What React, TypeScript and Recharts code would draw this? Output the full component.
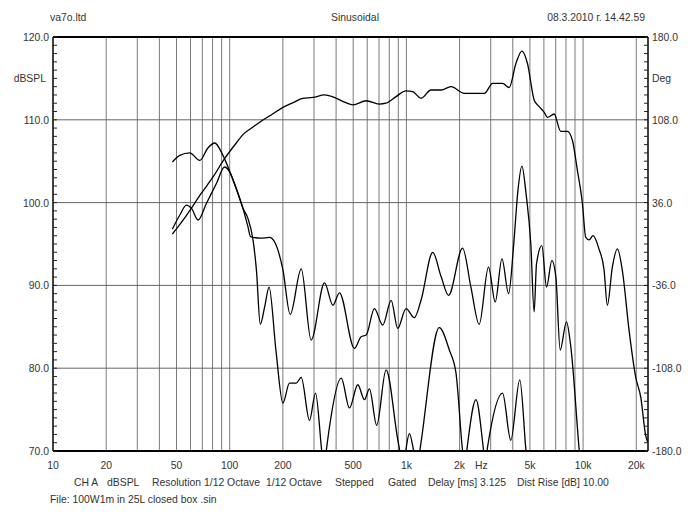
import React from "react";
import { LineChart, Line, XAxis, YAxis, ReferenceLine } from "recharts";

// SPL response (left axis, dB)
const splFreq = [
  47.4, 52, 58, 69, 80.5, 93.5, 109, 120, 135, 150, 175, 200, 230, 259, 296, 344, 401, 450, 498, 592,
  703, 767, 874, 995, 1086, 1210, 1378, 1570, 1789, 2128, 2373, 2763, 3077, 3502, 3820, 4167, 4505,
  4845, 5284, 5640, 6026, 6285, 6855, 7473, 8147, 8704, 9284, 9910, 10350, 10810, 11380, 12300,
  13140, 13720, 14640, 15640, 16680, 18200, 19860, 21200, 22600, 23300,
];
const splDb = [
  96.2, 97.3, 98.7, 101.1, 103.1, 105.3, 107.2, 108.3, 109.1, 109.8, 110.7, 111.5, 112.1, 112.6, 112.7,
  113.0, 112.6, 112.1, 111.8, 112.3, 111.9, 112.0, 112.8, 113.5, 113.4, 112.6, 113.6, 113.6, 114.0,
  113.2, 113.2, 113.2, 114.4, 114.4, 113.9, 116.8, 118.3, 116.8, 112.4, 111.6, 110.9, 110.3, 110.7,
  108.6, 108.6, 107.5, 103.9, 99.9, 95.8, 95.5, 96.0, 94.4, 91.9, 87.6, 92.2, 94.4, 91.8, 84.6, 78.9,
  76.5, 71.9, 71.0,
];

// upper wiggly curve
const upperFreq = [
  47.4, 52.2, 59.4, 67.7, 75.3, 82.2, 91.6, 104.5, 116.5, 126.8, 131, 150, 168, 179, 200, 220, 254,
  289, 344, 384, 418, 508, 554, 592, 659, 735, 820, 893, 995, 1109, 1210, 1410, 1570, 1733, 2080,
  2318, 2582, 2915, 3183, 3473, 3788, 4050, 4280, 4505, 4760, 5060, 5284, 5450, 5843, 6210, 6655,
  7015, 7420, 8050, 8520, 9490, 9900,
];
const upperDb = [
  104.9, 105.7, 106.0, 105.1, 106.6, 107.2, 105.7, 102.7, 99.9, 97.1, 95.9, 95.7, 95.8, 95.3, 91.9,
  86.5, 92.0, 83.4, 90.3, 87.6, 89.1, 82.4, 83.8, 84.0, 87.2, 85.2, 88.2, 84.8, 87.2, 86.1, 88.2, 94.0,
  91.1, 88.8, 94.5, 89.8, 85.3, 92.2, 88.0, 93.2, 89.0, 95.0, 101.5, 104.4, 101.0, 95.0, 86.8, 92.6,
  94.8, 89.8, 93.0, 91.0, 82.2, 85.6, 82.6, 70.3, 66,
];

// lower wiggly curve
const lowerFreq = [
  47.4, 52.2, 56.9, 60.8, 66.3, 73.8, 84.1, 93.5, 100, 109, 119, 126.8, 135.5, 141.6, 149, 158, 167,
  183, 200, 218, 238, 254, 283, 306, 330, 341, 352, 367, 428, 476, 531, 579, 618, 679, 767, 900, 955,
  1040, 1100, 1150, 1200, 1535, 1750, 1909, 2080, 2140, 2210, 2476, 2720, 2790, 2880, 3502, 3897,
  4382, 4750, 4950,
];
const lowerDb = [
  96.8, 98.5, 99.7, 99.3, 97.9, 99.9, 102.3, 104.3, 103.7, 101.7, 99.3, 98.1, 95.5, 91.9, 85.3, 87.5,
  89.8, 82, 75.8, 78.2, 78.2, 78.9, 73.7, 77.0, 70.5, 67.5, 70.0, 72.9, 78.8, 75.2, 78.0, 76.2, 77.5,
  73.1, 79.8, 71.0, 68.5, 72.1, 70.0, 68.0, 70.5, 84.9, 82.2, 79.4, 70.0, 68.0, 70.5, 76.2, 70.5,
  68.5, 70.5, 77.0, 71.3, 78.6, 70.0, 66,
];

const freqTicks = [10, 20, 50, 100, 200, 500, 1000, 2000, 2655, 5000, 10000, 20000];
const freqTickLabels = ["10", "20", "50", "100", "200", "500", "1k", "2k", "Hz", "5k", "10k", "20k"];
const gridFreqs = [
  20, 30, 40, 50, 60, 70, 80, 90, 100, 200, 300, 400, 500, 600, 700, 800, 900, 1000, 2000, 3000,
  4000, 5000, 6000, 7000, 8000, 9000, 10000, 20000,
];
const dbGrid = [80, 90, 100, 110];
const dbTicks = Array.from({ length: 51 }, (_, i) => 70 + i);
const degTicks = Array.from({ length: 51 }, (_, i) => -180 + i * 7.2);

const infoItems: [number, string][] = [
  [74, "CH A"],
  [107, "dBSPL"],
  [152, "Resolution 1/12 Octave"],
  [266, "1/12 Octave"],
  [335, "Stepped"],
  [388, "Gated"],
  [428, "Delay [ms] 3.125"],
  [517, "Dist Rise [dB] 10.00"],
];

const FONT = '"Liberation Sans", Arial, sans-serif';
const FS = 10.4;
const TXT = "#333";

const toData = (fs: number[], vs: number[]) => fs.map((f, i) => ({ f, v: vs[i] }));
const splData = toData(splFreq, splDb);
const upperData = toData(upperFreq, upperDb);
const lowerData = toData(lowerFreq, lowerDb);

function LeftTick(props: any) {
  const { x, y, payload } = props;
  const v = payload.value;
  const major = Math.abs(v % 10) < 0.001;
  return (
    <g>
      <line x1={x} x2={x + 4} y1={y} y2={y} stroke="#222" strokeWidth={1} />
      {major && (
        <text x={x - 4} y={y + 4} textAnchor="end" fontSize={FS} fontFamily={FONT} fill={TXT}>
          {v.toFixed(1)}
        </text>
      )}
    </g>
  );
}

function RightTick(props: any) {
  const { x, y, payload } = props;
  const v = payload.value;
  const k = (v + 180) / 72;
  const major = Math.abs(k - Math.round(k)) < 0.001;
  return (
    <g>
      <line x1={x - 4} x2={x} y1={y} y2={y} stroke="#222" strokeWidth={1} />
      {major && (
        <text x={x + 4} y={y + 4} textAnchor="start" fontSize={FS} fontFamily={FONT} fill={TXT}>
          {(Math.round(v * 10) / 10).toFixed(1)}
        </text>
      )}
    </g>
  );
}

function BottomTick(props: any) {
  const { x, y, payload } = props;
  const idx = freqTicks.indexOf(payload.value);
  return (
    <text x={x} y={y + 18} textAnchor="middle" fontSize={FS} fontFamily={FONT} fill={TXT}>
      {freqTickLabels[idx]}
    </text>
  );
}

export default function App() {
  return (
    <div style={{ position: "absolute", left: 0, top: 0, width: 700, height: 525, background: "#fff" }}>
      <LineChart width={700} height={525} margin={{ top: 37, right: 5, bottom: 44, left: 8 }}>
        <XAxis
          dataKey="f"
          type="number"
          scale="log"
          domain={[10, 23300]}
          allowDataOverflow
          ticks={freqTicks}
          interval={0}
          tick={<BottomTick />}
          tickLine={false}
          tickSize={0}
          tickMargin={0}
          height={30}
          axisLine={{ stroke: "#000", strokeWidth: 2 }}
        />
        <YAxis
          type="number"
          domain={[70, 120]}
          allowDataOverflow
          ticks={dbTicks}
          interval={0}
          tick={<LeftTick />}
          tickLine={false}
          tickSize={0}
          tickMargin={0}
          width={45}
          axisLine={{ stroke: "#000", strokeWidth: 1.5 }}
        />
        <YAxis
          yAxisId="deg"
          orientation="right"
          type="number"
          domain={[-180, 180]}
          allowDataOverflow
          ticks={degTicks}
          interval={0}
          tick={<RightTick />}
          tickLine={false}
          tickSize={0}
          tickMargin={0}
          width={47}
          axisLine={{ stroke: "#000", strokeWidth: 1.5 }}
        />
        {gridFreqs.map((f) => (
          <ReferenceLine key={"gx" + f} x={f} stroke="#7a7a7a" strokeWidth={1} />
        ))}
        {dbGrid.map((d) => (
          <ReferenceLine key={"gy" + d} y={d} stroke="#666" strokeWidth={1} />
        ))}
        <ReferenceLine y={120} stroke="#000" strokeWidth={2} />
        <Line data={lowerData} dataKey="v" type="monotone" stroke="#000" strokeWidth={1.3} dot={false} isAnimationActive={false} />
        <Line data={upperData} dataKey="v" type="monotone" stroke="#000" strokeWidth={1.3} dot={false} isAnimationActive={false} />
        <Line data={splData} dataKey="v" type="monotone" stroke="#000" strokeWidth={1.3} dot={false} isAnimationActive={false} />
      </LineChart>
      <svg
        width={700}
        height={525}
        style={{ position: "absolute", left: 0, top: 0, pointerEvents: "none" }}
        fontFamily={FONT}
        fontSize={FS}
        fill={TXT}
      >
        <text x={50} y={21}>va7o.ltd</text>
        <text x={355} y={21} textAnchor="middle">Sinusoidal</text>
        <text x={645} y={21} textAnchor="end">08.3.2010 г. 14.42.59</text>
        <text x={46} y={82} textAnchor="end">dBSPL</text>
        <text x={652} y={82}>Deg</text>
        {infoItems.map(([x, t]) => (
          <text key={t + x} x={x} y={486}>{t}</text>
        ))}
        <text x={50} y={503}>File: 100W1m in 25L closed box .sin</text>
      </svg>
    </div>
  );
}
